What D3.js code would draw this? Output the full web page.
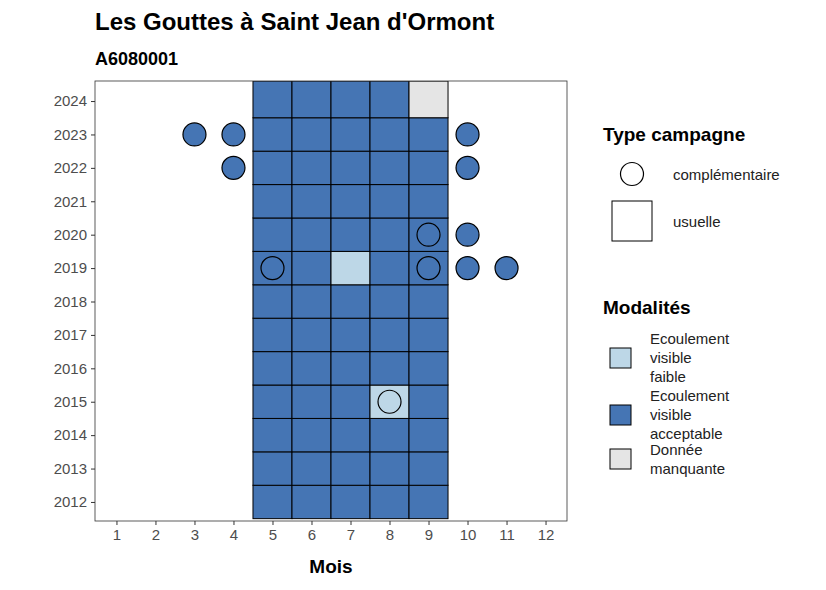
<!DOCTYPE html>
<html><head><meta charset="utf-8">
<script src="https://cdn.jsdelivr.net/npm/d3@7"></script>
<style>body{margin:0;background:#fff}svg{font-family:"Liberation Sans",Arial,sans-serif}</style>
</head><body><div id="chart"></div>
<script>
const months = d3.range(1, 13)
const years = d3.range(2012, 2025)
// usual campaign tiles: [year, month, modality]
const tiles = []
years.forEach(y => [5, 6, 7, 8, 9].forEach(m => {
    let mod = 'acc'
    if (y === 2019 && m === 7) mod = 'faible'
    if (y === 2015 && m === 8) mod = 'faible'
    if (y === 2024 && m === 9) mod = 'na'
    tiles.push({year: y, month: m, mod})
}))
// complementary campaigns
const extras = [
    {year: 2023, month: 3, mod: 'acc'}, {year: 2023, month: 4, mod: 'acc'}, {year: 2023, month: 10, mod: 'acc'},
    {year: 2022, month: 4, mod: 'acc'}, {year: 2022, month: 10, mod: 'acc'},
    {year: 2020, month: 9, mod: 'acc'}, {year: 2020, month: 10, mod: 'acc'},
    {year: 2019, month: 5, mod: 'acc'}, {year: 2019, month: 9, mod: 'acc'},
    {year: 2019, month: 10, mod: 'acc'}, {year: 2019, month: 11, mod: 'acc'},
    {year: 2015, month: 8, mod: 'faible'}
]
const modLabels = [
    {key: 'faible', lines: ['Ecoulement', 'visible', 'faible']},
    {key: 'acc', lines: ['Ecoulement', 'visible', 'acceptable']},
    {key: 'na', lines: ['Donnée', 'manquante']}
]
const colors = {faible: '#BDD7E7', acc: '#4575B4', na: '#E5E5E5'}

const width = 826, height = 590
const svg = d3.select('#chart').append('svg').attr('width', width).attr('height', height)
const L = 95, R = 567, T = 81, B = 521
const x = d3.scaleLinear().domain([0.45, 12.55]).range([L, R])
const y = d3.scaleLinear().domain([2011.43, 2024.6]).range([B, T])

svg.append('defs').append('clipPath').attr('id', 'clip')
    .append('rect').attr('x', L).attr('y', T).attr('width', R - L).attr('height', B - T)

const g = svg.append('g').attr('clip-path', 'url(#clip)')
g.selectAll('rect.tile').data(tiles).enter().append('rect')
    .attr('x', d => x(d.month - 0.5))
    .attr('width', d => x(d.month + 0.5) - x(d.month - 0.5))
    .attr('y', d => d.year === 2024 ? T : y(d.year + 0.5))
    .attr('height', d => (d.year === 2024 ? y(d.year - 0.5) - T : y(d.year - 0.5) - y(d.year + 0.5)))
    .attr('fill', d => colors[d.mod]).attr('stroke', '#000').attr('stroke-width', 1)
g.selectAll('circle').data(extras).enter().append('circle')
    .attr('cx', d => x(d.month)).attr('cy', d => y(d.year)).attr('r', 11.5)
    .attr('fill', d => colors[d.mod]).attr('stroke', '#000').attr('stroke-width', 1.2)

svg.append('rect').attr('x', L).attr('y', T).attr('width', R - L).attr('height', B - T)
    .attr('fill', 'none').attr('stroke', '#333').attr('stroke-width', 0.8)

const xa = svg.append('g').attr('transform', `translate(0,${B})`)
    .call(d3.axisBottom(x).tickValues(months).tickSize(4).tickPadding(4).tickFormat(d3.format('d')))
const ya = svg.append('g').attr('transform', `translate(${L},0)`)
    .call(d3.axisLeft(y).tickValues(years).tickSize(4).tickPadding(4).tickFormat(d3.format('d')))
;[xa, ya].forEach(a => {
    a.select('.domain').remove()
    a.selectAll('line').attr('stroke', '#333')
    a.selectAll('text').attr('fill', '#4d4d4d').attr('font-size', 15)
})

svg.append('text').attr('x', 95).attr('y', 30).attr('font-size', 24).attr('font-weight', 'bold')
    .text("Les Gouttes à Saint Jean d'Ormont")
svg.append('text').attr('x', 95).attr('y', 65).attr('font-size', 18).attr('font-weight', 'bold').text('A6080001')
svg.append('text').attr('x', (L + R) / 2).attr('y', 573).attr('text-anchor', 'middle')
    .attr('font-size', 19).attr('font-weight', 'bold').text('Mois')

// legend: type campagne
svg.append('text').attr('x', 603).attr('y', 141).attr('font-size', 19).attr('font-weight', 'bold').text('Type campagne')
svg.append('circle').attr('cx', 632).attr('cy', 174).attr('r', 11.5).attr('fill', '#fff').attr('stroke', '#000').attr('stroke-width', 1.2)
svg.append('text').attr('x', 673).attr('y', 180).attr('font-size', 15).attr('fill', '#222').text('complémentaire')
svg.append('rect').attr('x', 612).attr('y', 201).attr('width', 40).attr('height', 40).attr('fill', '#fff').attr('stroke', '#000')
svg.append('text').attr('x', 673).attr('y', 227).attr('font-size', 15).attr('fill', '#222').text('usuelle')

// legend: modalités
svg.append('text').attr('x', 603).attr('y', 314).attr('font-size', 19).attr('font-weight', 'bold').text('Modalités')
const keyY = [358, 415, 459]
modLabels.forEach((m, i) => {
    svg.append('rect').attr('x', 610).attr('y', keyY[i] - 10).attr('width', 21).attr('height', 20)
        .attr('fill', colors[m.key]).attr('stroke', '#000')
    const t = svg.append('text').attr('font-size', 15).attr('fill', '#222')
    const n = m.lines.length
    m.lines.forEach((s, j) => t.append('tspan').attr('x', 650)
        .attr('y', keyY[i] + 5 + (j - (n - 1) / 2) * 19).text(s))
})
</script></body></html>
